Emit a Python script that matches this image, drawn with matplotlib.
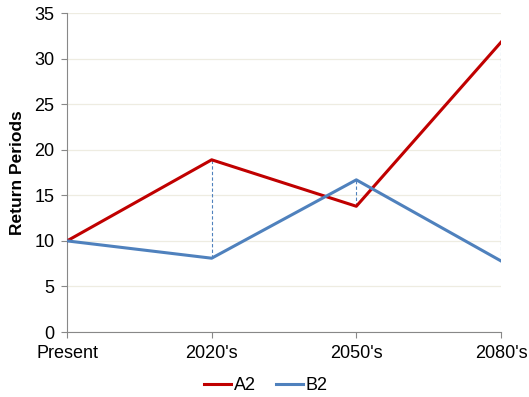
import matplotlib
matplotlib.use("Agg")
import matplotlib.pyplot as plt

periods = ["Present", "2020's", "2050's", "2080's"]
a2 = [10.0, 18.9, 13.8, 31.8]
b2 = [10.0, 8.1, 16.7, 7.8]

plt.rcParams["font.family"] = ["Liberation Sans", "DejaVu Sans"]

fig = plt.figure(figsize=(5.29, 3.97), dpi=100)
ax = fig.add_axes([0.1267, 0.1637, 0.947 - 0.1267, 0.967 - 0.1637])

x = list(range(len(periods)))

# high-low lines between the two series
for xi, ya, yb in zip(x, a2, b2):
    ax.plot([xi, xi], [min(ya, yb), max(ya, yb)], color="#4F81BD",
            lw=0.8, ls=(0, (3, 2)), zorder=2)

ax.plot(x, a2, color="#C00000", lw=2.2, label="A2", zorder=3)
ax.plot(x, b2, color="#4F81BD", lw=2.2, label="B2", zorder=3)

ax.set_xlim(0, len(periods) - 1)
ax.set_ylim(0, 35)
ax.set_yticks(range(0, 36, 5))
ax.set_xticks(x)
ax.set_xticklabels(periods)
ax.tick_params(axis="both", labelsize=13, color="#888888", length=4, width=0.8)
ax.tick_params(axis="x", pad=5)
ax.tick_params(axis="y", pad=5)

ax.grid(axis="y", color="#EEECE1", lw=0.9, zorder=0)
ax.set_axisbelow(True)
for side in ["top", "right"]:
    ax.spines[side].set_visible(False)
for side in ["left", "bottom"]:
    ax.spines[side].set_color("#888888")
    ax.spines[side].set_linewidth(0.8)

ax.set_ylabel("Return Periods", fontsize=12.5, fontweight="bold", labelpad=7)

ax.legend(loc="upper center", bbox_to_anchor=(0.458, -0.09), ncol=2,
          frameon=False, fontsize=13, handlelength=1.5, handletextpad=0.15,
          columnspacing=1.1)

fig.savefig("out.png", dpi=100)
